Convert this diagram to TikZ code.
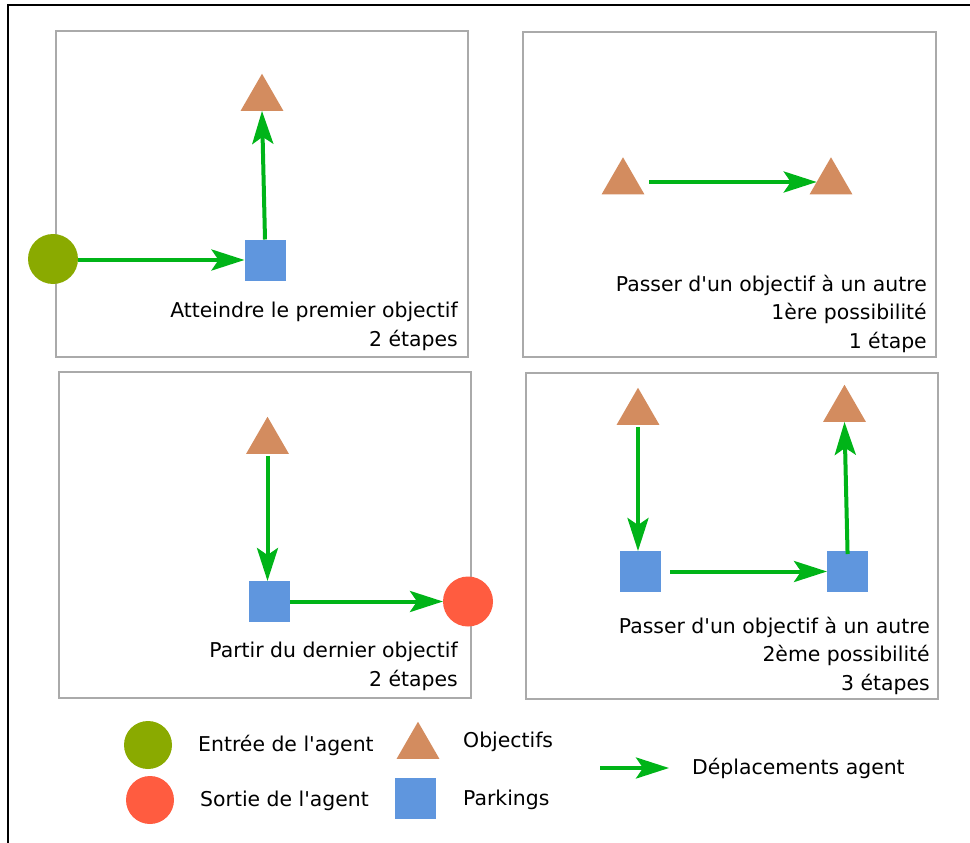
\documentclass[tikz,border=0pt]{standalone}
\usepackage{fontspec}
\setmainfont{DejaVu Sans}
\usetikzlibrary{arrows.meta,shapes.geometric}

\definecolor{agentin}{RGB}{138,170,0}
\definecolor{agentout}{RGB}{255,92,64}
\definecolor{objcol}{RGB}{211,140,95}
\definecolor{parkcol}{RGB}{95,150,222}
\definecolor{movecol}{RGB}{0,180,24}
\definecolor{framecol}{RGB}{170,170,170}

\newcommand{\apos}{\textquotesingle}

\tikzset{
  entrypt/.style={circle, fill=agentin, minimum size=50pt, inner sep=0pt, outer sep=0pt},
  exitpt/.style={circle, fill=agentout, minimum size=50pt, inner sep=0pt, outer sep=0pt},
  objtri/.style={regular polygon, regular polygon sides=3, fill=objcol,
                 minimum size=49.5pt, inner sep=0pt, outer sep=0pt},
  parkbox/.style={rectangle, fill=parkcol, minimum size=41pt, inner sep=0pt, outer sep=0pt},
  move/.style={draw=movecol, line width=4pt,
               -{Stealth[length=33pt, width=21pt, inset=7pt]}},
  panelbox/.style={draw=framecol, line width=1.2pt},
  caption/.style={align=right, anchor=base east, inner sep=0pt,
                  font=\fontsize{20.4}{28.5}\selectfont},
  legtext/.style={anchor=west, inner sep=0pt, font=\fontsize{20.4}{24}\selectfont}
}

\begin{document}
\begin{tikzpicture}[x=1pt, y=-1pt]
\useasboundingbox (0,0) rectangle (970,843);

% outer frame (left and top edges)
\draw[line width=2.2pt] (8,850) -- (8,5) -- (980,5);

% the four panels
\draw[panelbox] (56,31) rectangle (468,357);
\draw[panelbox] (523,32) rectangle (936,357);
\draw[panelbox] (59,372) rectangle (471,698);
\draw[panelbox] (526,373) rectangle (938,699);

% panel 1: reaching the first objective
\node[parkbox] (p1park) at (265,260) {};
\node[entrypt] (p1in) at (53,259) {};
\node[objtri] (p1obj) at (262,98.5) {};
\draw[move] (p1in.east |- p1park.west) -- (p1park.west);
\draw[move] (p1park.north) -- (p1obj.south);
\node[caption] (p1txt) at (458,346) {Atteindre le premier objectif\\2 étapes};

% panel 2: objective to objective, direct
\node[objtri] (p2a) at (623,182) {};
\node[objtri] (p2b) at (831,182) {};
\draw[move, shorten <=12pt] (p2a) -- (p2b);
\node[caption] (p2txt) at (927,348) {Passer d\apos un objectif à un autre\\1ère possibilité\\1 étape};

% panel 3: leaving from the last objective
\node[objtri] (p3obj) at (267.5,441.5) {};
\node[parkbox] (p3park) at (269.5,601.5) {};
\node[exitpt] (p3out) at (468,601.5) {};
\draw[move, shorten <=2pt] (p3obj.south) -- (p3obj.south |- p3park.north);
\draw[move] (p3park.east) -- (p3out.west);
\node[caption] (p3txt) at (458,686) {Partir du dernier objectif\\2 étapes};

% panel 4: objective to objective through parkings
\node[objtri] (p4a) at (638,412.5) {};
\node[parkbox] (p4pa) at (640.5,571.5) {};
\node[parkbox] (p4pb) at (847.5,571.5) {};
\node[objtri] (p4b) at (844.5,409.5) {};
\draw[move, shorten <=2pt] (p4a.south) -- (p4a.south |- p4pa.north);
\draw[move, shorten <=9pt] (p4pa.east) -- (p4pb.west);
\draw[move, shorten <=-3pt] (p4pb.north) -- (p4b.south);
\node[caption] (p4txt) at (930,690) {Passer d\apos un objectif à un autre\\2ème possibilité\\3 étapes};

% legend
\node[entrypt, minimum size=48pt] (lgin) at (148,745) {};
\node[legtext] (lgintxt) at (198,745) {Entrée de l\apos agent};
\node[exitpt, minimum size=48pt] (lgout) at (150,800) {};
\node[legtext] (lgouttxt) at (200,801) {Sortie de l\apos agent};
\node[objtri] (lgobj) at (418,746.5) {};
\node[legtext] (lgobjtxt) at (463,742) {Objectifs};
\node[parkbox] (lgpark) at (415,798) {};
\node[legtext] (lgparktxt) at (463,800) {Parkings};
\coordinate (lgmovea) at (600,768);
\coordinate (lgmoveb) at (669,768);
\draw[move] (lgmovea) -- (lgmoveb);
\node[legtext] (lgmovetxt) at (692,768) {Déplacements agent};
\end{tikzpicture}
\end{document}
